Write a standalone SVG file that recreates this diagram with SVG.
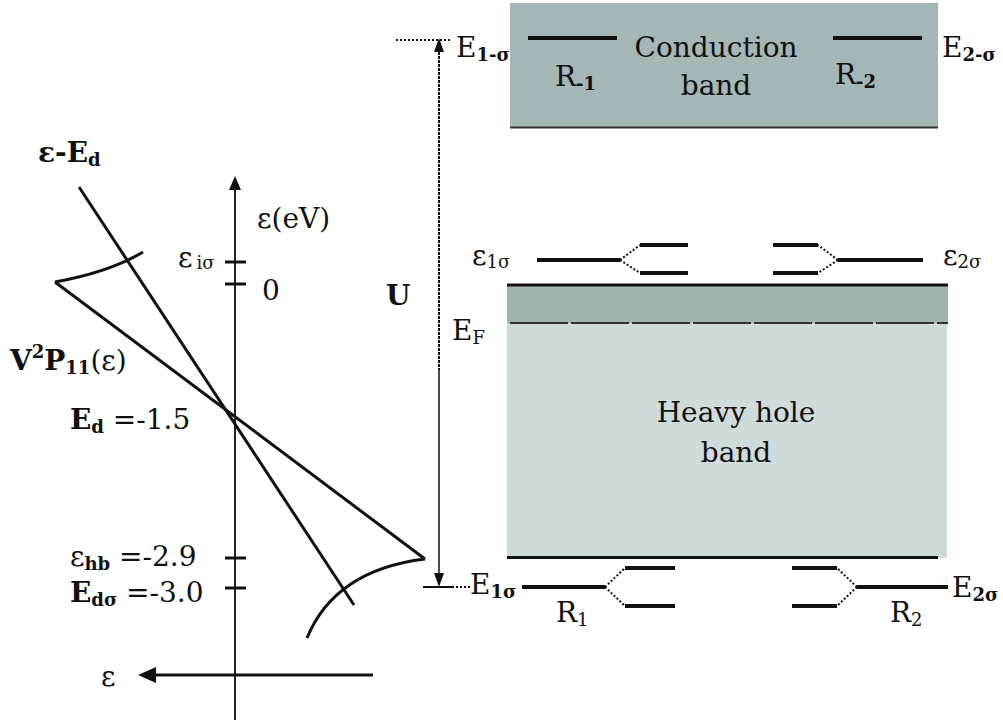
<svg xmlns="http://www.w3.org/2000/svg" width="1003" height="723" viewBox="0 0 1003 723">
<style>
text{font-family:"DejaVu Serif","Liberation Serif",serif;fill:#111;font-size:28px}
.b{font-weight:bold}
.sub{font-size:18px}
.lvl{stroke:#111;stroke-width:4;fill:none}
.dot{stroke:#111;stroke-width:2;stroke-dasharray:2 2;fill:none}
.crv{stroke:#111;stroke-width:3;fill:none}
</style>

<!-- Left plot -->
<g id="axes">
<line x1="235" y1="720" x2="235" y2="188" stroke="#222" stroke-width="2"/>
<path d="M235,176 L229,190 L241,190 z" fill="#111"/>
<line x1="373" y1="675" x2="152" y2="675" stroke="#111" stroke-width="3"/>
<path d="M138,675 L156,667 L156,683 z" fill="#111"/>
<line x1="225" y1="262" x2="246" y2="262" stroke="#111" stroke-width="3"/>
<line x1="225" y1="284" x2="246" y2="284" stroke="#111" stroke-width="3"/>
<line x1="225" y1="558" x2="246" y2="558" stroke="#111" stroke-width="3"/>
<line x1="225" y1="588" x2="246" y2="588" stroke="#111" stroke-width="3"/>
</g>
<g id="curves">
<line x1="79" y1="187" x2="354" y2="605" class="crv"/>
<line x1="55" y1="282" x2="425" y2="559" class="crv"/>
<path d="M55,282 Q110,272 143,252" class="crv" stroke-width="2"/>
<path d="M425,559 Q335,570 307,638" class="crv" stroke-width="2"/>
</g>
<g id="left-labels">
<text x="38" y="162" class="b">ε-E<tspan class="sub" dy="4">d</tspan></text>
<text x="257" y="228">ε(eV)</text>
<text x="178" y="267" font-size="26">ε<tspan class="sub" dx="4" dy="2">iσ</tspan></text>
<text x="262" y="300">0</text>
<text x="10" y="370" class="b">V<tspan class="sub" dy="-12">2</tspan><tspan dy="12">P</tspan><tspan class="sub" dy="4">11</tspan><tspan dy="-4" font-weight="normal">(ε)</tspan></text>
<text x="70" y="429"><tspan class="b">E</tspan><tspan class="sub b" dy="4">d</tspan><tspan dy="-4"> =-1.5</tspan></text>
<text x="70" y="566">ε<tspan class="sub b" dy="4">hb</tspan><tspan dy="-4"> =-2.9</tspan></text>
<text x="70" y="602"><tspan class="b">E</tspan><tspan class="sub b" dy="4">dσ</tspan><tspan dy="-4"> =-3.0</tspan></text>
<text x="101" y="686">ε</text>
</g>

<!-- Right: bands -->
<g id="conduction-band">
<rect x="510" y="3" width="428" height="125" fill="#a4b6b5"/>
<line x1="510" y1="127.5" x2="938" y2="127.5" stroke="#333" stroke-width="2"/>
<line x1="528" y1="38" x2="617" y2="38" class="lvl"/>
<line x1="833" y1="38" x2="922" y2="38" class="lvl"/>
<text x="716" y="57" text-anchor="middle">Conduction</text>
<text x="716" y="95" text-anchor="middle">band</text>
<text x="555" y="86">R<tspan class="sub b" dy="4">-1</tspan></text>
<text x="835" y="84">R<tspan class="sub b" dy="4">-2</tspan></text>
</g>
<g id="heavy-hole-band">
<rect x="507" y="285" width="441" height="38" fill="#a0b3b1"/>
<rect x="507" y="323" width="440" height="235" fill="#cfdbdb"/>
<line x1="507" y1="285" x2="948" y2="285" stroke="#111" stroke-width="3"/>
<line x1="510" y1="323" x2="948" y2="323" stroke="#333" stroke-width="2" stroke-dasharray="58 3"/>
<line x1="507" y1="557.5" x2="938" y2="557.5" stroke="#111" stroke-width="3"/>
<text x="736" y="422" text-anchor="middle">Heavy hole</text>
<text x="736" y="462" text-anchor="middle">band</text>
</g>
<g id="level-e1s-upper">
<line x1="537" y1="260" x2="620" y2="260" class="lvl"/>
<line x1="640" y1="245" x2="688" y2="245" class="lvl"/>
<line x1="640" y1="273" x2="688" y2="273" class="lvl"/>
<path d="M620,260 L640,245 M620,260 L640,273" class="dot"/>
<text x="472" y="265">ε<tspan class="sub" dy="3">1σ</tspan></text>
</g>
<g id="level-e2s-upper">
<line x1="838" y1="260" x2="923" y2="260" class="lvl"/>
<line x1="773" y1="245" x2="818" y2="245" class="lvl"/>
<line x1="773" y1="273" x2="818" y2="273" class="lvl"/>
<path d="M838,260 L818,245 M838,260 L818,273" class="dot"/>
<text x="943" y="265">ε<tspan class="sub" dy="3">2σ</tspan></text>
</g>
<g id="level-E1s-lower">
<line x1="522" y1="587" x2="605" y2="587" class="lvl"/>
<line x1="625" y1="568" x2="675" y2="568" class="lvl"/>
<line x1="625" y1="606" x2="675" y2="606" class="lvl"/>
<path d="M605,587 L625,568 M605,587 L625,606" class="dot"/>
<text x="470" y="594">E<tspan class="sub b" dy="4">1σ</tspan></text>
<text x="556" y="622">R<tspan class="sub" dy="4">1</tspan></text>
</g>
<g id="level-E2s-lower">
<line x1="857" y1="587" x2="948" y2="587" class="lvl"/>
<line x1="792" y1="568" x2="837" y2="568" class="lvl"/>
<line x1="792" y1="606" x2="837" y2="606" class="lvl"/>
<path d="M857,587 L837,568 M857,587 L837,606" class="dot"/>
<text x="952" y="597">E<tspan class="sub b" dy="4">2σ</tspan></text>
<text x="890" y="622">R<tspan class="sub" dy="4">2</tspan></text>
</g>
<g id="top-labels">
<text x="456" y="57">E<tspan class="sub b" dy="4">1-σ</tspan></text>
<text x="942" y="57">E<tspan class="sub b" dy="4">2-σ</tspan></text>
</g>
<g id="U-arrow">
<line x1="396" y1="40" x2="452" y2="40" class="dot"/>
<line x1="439" y1="52" x2="439" y2="370" stroke="#111" stroke-width="2" stroke-dasharray="3 1"/>
<line x1="439" y1="370" x2="439" y2="575" stroke="#111" stroke-width="1.5"/>
<path d="M439,38 L434,52 L444,52 z" fill="#111"/>
<path d="M439,587 L434,573 L444,573 z" fill="#111"/>
<line x1="423" y1="587" x2="452" y2="587" stroke="#111" stroke-width="2"/>
<line x1="452" y1="587" x2="470" y2="587" class="dot"/>
<text x="386" y="305" class="b">U</text>
<text x="452" y="340">E<tspan class="sub" dy="4">F</tspan></text>
</g>
</svg>
